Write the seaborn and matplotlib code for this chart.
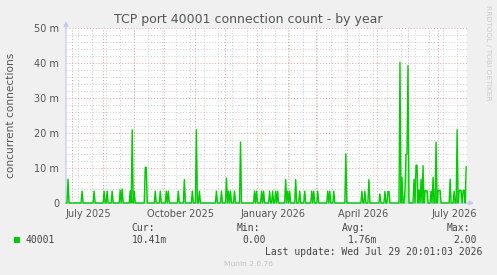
import matplotlib
matplotlib.use("Agg")
import matplotlib.pyplot as plt
from matplotlib.patches import Rectangle
import pandas as pd
import seaborn as sns

# ---------------- data (daily averages, in milli-connections) ----------------
spike_dates = [
    "2025-06-27", "2025-07-11", "2025-07-23", "2025-08-02", "2025-08-05", "2025-08-10",
    "2025-08-18", "2025-08-20", "2025-08-28", "2025-08-30", "2025-09-01", "2025-09-12",
    "2025-09-13", "2025-09-22", "2025-09-27", "2025-10-03", "2025-10-05", "2025-10-15",
    "2025-10-21", "2025-10-29", "2025-11-02", "2025-11-05", "2025-11-22", "2025-11-27",
    "2025-12-02", "2025-12-04", "2025-12-06", "2025-12-10", "2025-12-16", "2025-12-30",
    "2026-01-01", "2026-01-06", "2026-01-08", "2026-01-14", "2026-01-17", "2026-01-20",
    "2026-01-22", "2026-01-30", "2026-02-01", "2026-02-03", "2026-02-09", "2026-02-13",
    "2026-02-18", "2026-02-25", "2026-02-27", "2026-03-03", "2026-03-13", "2026-03-15",
    "2026-03-19", "2026-03-31", "2026-04-16", "2026-04-19", "2026-04-23", "2026-05-04",
    "2026-05-09", "2026-05-12", "2026-05-13", "2026-05-24", "2026-05-26", "2026-05-29",
    "2026-05-30", "2026-05-31", "2026-06-01", "2026-06-07", "2026-06-09", "2026-06-10",
    "2026-06-12", "2026-06-14", "2026-06-16", "2026-06-18", "2026-06-19", "2026-06-20",
    "2026-06-24", "2026-06-26", "2026-06-29", "2026-07-01", "2026-07-02", "2026-07-03",
    "2026-07-13", "2026-07-17", "2026-07-20", "2026-07-22", "2026-07-23", "2026-07-24",
    "2026-07-26", "2026-07-27", "2026-07-29",
]
spike_values_milli = [
    6.8, 3.4, 3.4, 3.4, 3.4, 3.4,
    3.7, 4.0, 3.5, 20.9, 3.4, 10.2,
    10.2, 3.4, 3.4, 3.4, 3.4, 3.4,
    6.7, 3.4, 20.9, 3.4, 3.4, 3.4,
    7.1, 3.4, 3.4, 3.4, 17.4, 3.4,
    3.4, 3.4, 3.4, 3.4, 3.4, 3.4,
    3.4, 6.7, 3.4, 3.4, 6.7, 3.4,
    3.4, 3.4, 3.4, 3.4, 3.4, 3.4,
    3.4, 14.0, 3.4, 3.4, 6.7, 2.6,
    3.3, 3.3, 3.3, 40.2, 7.3, 3.7,
    13.9, 13.9, 39.2, 6.8, 10.8, 10.8,
    3.7, 6.8, 10.7, 3.5, 3.5, 3.5,
    3.4, 7.3, 17.4, 3.6, 3.6, 3.6,
    6.8, 3.4, 20.9, 3.6, 3.6, 3.6,
    3.6, 3.6, 10.4,
]
start_date = "2025-06-25"
end_date = "2026-07-29"
end_time = "2026-07-29 20:01:03"

y_ticks = [0, 10, 20, 30, 40, 50]
y_tick_labels = ["0", "10 m", "20 m", "30 m", "40 m", "50 m"]
x_label_dates = ["2025-07-17", "2025-10-17", "2026-01-17", "2026-04-17", "2026-07-17"]
x_labels = ["July 2025", "October 2025", "January 2026", "April 2026", "July 2026"]

title = "TCP port 40001 connection count - by year"
y_label = "concurrent connections"
series_name = "40001"
stat_heads = ["Cur:", "Min:", "Avg:", "Max:"]
stat_values = ["10.41m", "0.00", "1.76m", "2.00"]
last_update = "Last update: Wed Jul 29 20:01:03 2026"

# ---------------- build table ----------------
idx = pd.date_range(start_date, end_date, freq="D")
s = pd.Series(0.0, index=idx)
s[pd.to_datetime(spike_dates)] = spike_values_milli
df = pd.DataFrame({"date": idx, "value": s.values})

# ---------------- figure ----------------
sns.set_style("white")
plt.rcParams["font.family"] = ["DejaVu Sans"]

W, H = 497, 275
BG = "#f0f0f0"
GREEN = "#00cc00"
TXT = "#555555"
MAJ = "#e8a0a0"
MIN = "#d0d0d0"
AX = "#c8c8f4"

fig = plt.figure(figsize=(W / 100, H / 100), dpi=100, facecolor=BG)
L, R, T, B = 66, 467, 28, 203
ax = fig.add_axes([L / W, 1 - B / H, (R - L) / W, (B - T) / H])
ax.set_facecolor("white")

x0 = pd.Timestamp(start_date)
x1 = pd.Timestamp(end_time)
ax.set_xlim(x0, x1)
ax.set_ylim(0, 50)

# grid
for v in range(2, 51, 2):
    if v % 10:
        ax.axhline(v, color=MIN, lw=0.7, ls=(0, (1, 2)), zorder=1)
for d in pd.date_range("2025-07-07", end_date, freq="14D"):
    ax.axvline(d, color=MIN, lw=0.7, ls=(0, (1, 2)), zorder=1)
for v in range(10, 51, 10):
    ax.axhline(v, color=MAJ, lw=0.7, ls=(0, (1, 2)), zorder=2)
month_starts = pd.date_range("2025-07-01", end_date, freq="MS")
for d in month_starts:
    ax.axvline(d, color=MAJ, lw=0.7, ls=(0, (1, 2)), zorder=2)

# data
ax.fill_between(df["date"], df["value"], 0, color=GREEN, alpha=0.3, lw=0, zorder=3)
sns.lineplot(data=df, x="date", y="value", ax=ax, color=GREEN, lw=1.0, zorder=4)
for ln in ax.lines[-1:]:
    ln.set_clip_on(False)

for sp in ax.spines.values():
    sp.set_visible(False)

ax.set_yticks(y_ticks)
ax.set_yticklabels(y_tick_labels)
ax.tick_params(axis="y", length=0, pad=5, labelsize=7, labelcolor=TXT)
ax.set_xticks(pd.to_datetime(x_label_dates))
ax.set_xticklabels(x_labels)
ax.tick_params(axis="x", which="major", length=0, pad=4, labelsize=7, labelcolor=TXT)
ax.set_xticks(month_starts, minor=True)
ax.tick_params(axis="x", which="minor", length=2, width=0.7, color=MAJ)
ax.set_xlabel("")
ax.set_ylabel("")

# axes with arrows
ax.annotate("", xy=(L, H - 21), xytext=(L, H - B), xycoords="figure pixels",
            arrowprops=dict(arrowstyle="-|>", color=AX, lw=0.9, mutation_scale=7, shrinkA=0, shrinkB=0))
ax.annotate("", xy=(474, H - B), xytext=(L, H - B), xycoords="figure pixels",
            arrowprops=dict(arrowstyle="-|>", color=AX, lw=0.9, mutation_scale=7, shrinkA=0, shrinkB=0))

# texts
fig.text(248 / W, 1 - 19 / H, title, ha="center", va="center", fontsize=9, color=TXT)
fig.text(11 / W, 1 - 115.5 / H, y_label, ha="center", va="center", rotation=90,
         fontsize=7.6, color=TXT)
fig.text(488 / W, 1 - 53 / H, "RRDTOOL / TOBI OETIKER", ha="center", va="center",
         rotation=270, fontsize=5.4, color="#cccccc")

mono = "DejaVu Sans Mono"
fig.patches.append(Rectangle((14 / W, 1 - 243 / H), 6 / W, 6 / H, transform=fig.transFigure,
                             facecolor=GREEN, edgecolor="none"))
fig.text(26 / W, 1 - 240 / H, series_name, ha="left", va="center", fontsize=7, family=mono, color="#444444")
head_x = [131.7, 236.7, 341.7, 446.7]
val_right = [166.7, 266.0, 377.7, 476.7]
for hx, h in zip(head_x, stat_heads):
    fig.text(hx / W, 1 - 228 / H, h, ha="left", va="center", fontsize=7, family=mono, color="#444444")
for vx, v in zip(val_right, stat_values):
    fig.text(vx / W, 1 - 240 / H, v, ha="right", va="center", fontsize=7, family=mono, color="#444444")
fig.text(482.5 / W, 1 - 252 / H, last_update, ha="right", va="center", fontsize=7,
         family=mono, color="#444444")
fig.text(248 / W, 1 - 264 / H, "Munin 2.0.76", ha="center", va="center", fontsize=5.4, color="#c4c4c4")

fig.savefig("out.png", dpi=100, facecolor=BG)
